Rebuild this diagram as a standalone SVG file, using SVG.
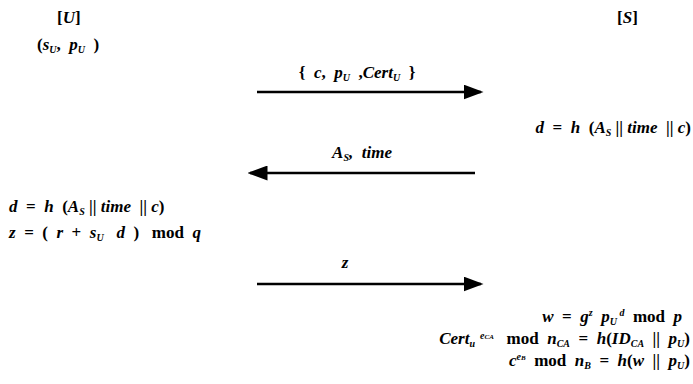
<svg xmlns="http://www.w3.org/2000/svg" width="693" height="384" viewBox="0 0 693 384">
<style>
text{font-family:"Liberation Serif","Times New Roman",serif;font-size:17px;fill:#000;font-weight:bold}
.i{font-style:italic}
.s{font-size:10px;font-style:italic}
.t{font-size:7px;font-style:italic}
.r{text-anchor:end}
.m{text-anchor:middle}
line{stroke:#000;stroke-width:2.5}
</style>
<defs>
<marker id="ah" markerWidth="8" markerHeight="6" refX="7" refY="3" orient="auto" markerUnits="strokeWidth">
<path d="M0,0 L8,3 L0,6 Z" fill="#000"/>
</marker>
</defs>
<rect width="693" height="384" fill="#fff"/>
<g id="user">
<text x="57" y="23">[<tspan class="i">U</tspan>]</text>
<text x="37" y="50" xml:space="preserve">(<tspan class="i">s</tspan><tspan class="s" dy="3">U</tspan><tspan dy="-3">,  </tspan><tspan class="i">p</tspan><tspan class="s" dy="3">U</tspan><tspan dy="-3">  )</tspan></text>
</g>
<g id="server">
<text x="617" y="23">[<tspan class="i">S</tspan>]</text>
</g>
<g id="server-calc-d">
<text x="691" y="133" class="r" xml:space="preserve"><tspan class="i">d</tspan>  =  <tspan class="i">h</tspan>  (<tspan class="i">A</tspan><tspan class="s" dy="3">S</tspan><tspan dy="-3"> || </tspan><tspan class="i">time</tspan>  || <tspan class="i">c</tspan>)</text>
</g>
<g id="user-calc">
<text x="9" y="212" xml:space="preserve"><tspan class="i">d</tspan>  =  <tspan class="i">h</tspan>  (<tspan class="i">A</tspan><tspan class="s" dy="3">S</tspan><tspan dy="-3"> || </tspan><tspan class="i">time</tspan>  || <tspan class="i">c</tspan>)</text>
<text x="9" y="238" xml:space="preserve"><tspan class="i">z</tspan>  =  (  <tspan class="i">r</tspan>  +  <tspan class="i">s</tspan><tspan class="s" dy="3">U</tspan><tspan dy="-3">   </tspan><tspan class="i">d</tspan>  )   mod  <tspan class="i">q</tspan></text>
</g>
<g id="server-verify">
<text x="682" y="322" class="r" xml:space="preserve"><tspan class="i">w</tspan>  =  <tspan class="i">g</tspan><tspan class="s" dy="-6">z</tspan><tspan dy="6">  </tspan><tspan class="i">p</tspan><tspan class="s" dy="3">U</tspan><tspan class="s" dy="-9"> d</tspan><tspan dy="6">  mod  </tspan><tspan class="i">p</tspan></text>
<text x="690" y="344" class="r" xml:space="preserve"><tspan class="i">Cert</tspan><tspan class="s" dy="3">u</tspan><tspan class="s" dy="-8">  e</tspan><tspan class="t">CA</tspan><tspan dy="5">   mod  </tspan><tspan class="i">n</tspan><tspan class="s" dy="3">CA</tspan><tspan dy="-3">  =  </tspan><tspan class="i">h</tspan>(<tspan class="i">ID</tspan><tspan class="s" dy="3">CA</tspan><tspan dy="-3">  ||  </tspan><tspan class="i">p</tspan><tspan class="s" dy="3">U</tspan><tspan dy="-3">)</tspan></text>
<text x="690" y="366" class="r" xml:space="preserve"><tspan class="i">c</tspan><tspan class="s" dy="-6">e</tspan><tspan class="t">B</tspan><tspan dy="6">  mod  </tspan><tspan class="i">n</tspan><tspan class="s" dy="3">B</tspan><tspan dy="-3">  =  </tspan><tspan class="i">h</tspan>(<tspan class="i">w</tspan>  ||  <tspan class="i">p</tspan><tspan class="s" dy="3">U</tspan><tspan dy="-3">)</tspan></text>
</g>
<g id="connectors">
<line x1="257" y1="92" x2="481" y2="92" marker-end="url(#ah)"/>
<text x="357" y="78" class="m" xml:space="preserve">{  <tspan class="i">c</tspan>,  <tspan class="i">p</tspan><tspan class="s" dy="3">U</tspan><tspan dy="-3">  ,</tspan><tspan class="i">Cert</tspan><tspan class="s" dy="3">U</tspan><tspan dy="-3">  }</tspan></text>
<line x1="475" y1="173" x2="250" y2="173" marker-end="url(#ah)"/>
<text x="362" y="158" class="m i" xml:space="preserve">A<tspan class="s" dy="3">S</tspan><tspan dy="-3">,  time</tspan></text>
<line x1="257" y1="284" x2="481" y2="284" marker-end="url(#ah)"/>
<text x="345" y="268" class="m i">z</text>
</g>
</svg>
